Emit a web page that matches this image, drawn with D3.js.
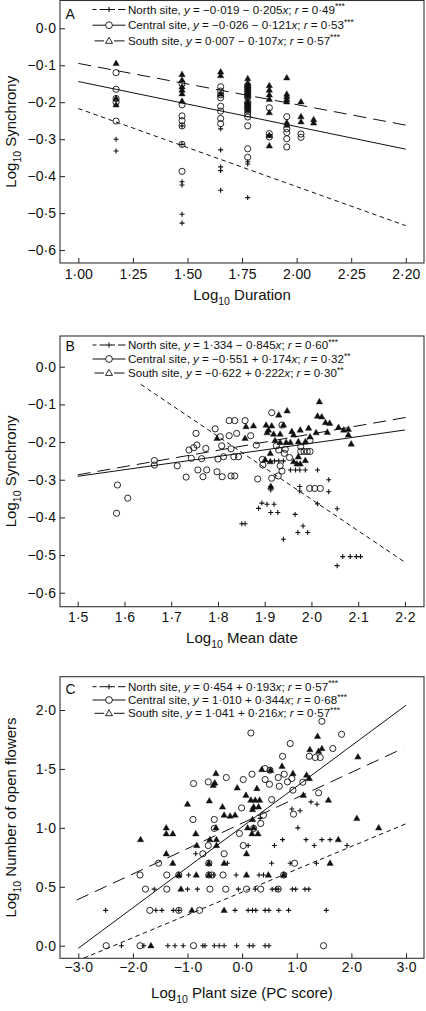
<!DOCTYPE html>
<html><head><meta charset="utf-8">
<script src="https://cdn.jsdelivr.net/npm/d3@7"></script>
<style>
body{margin:0;background:#fff}
svg{display:block}
text{font-family:"Liberation Sans",Arial,Helvetica,sans-serif;fill:#111}
</style>
</head><body>
<svg id="c" width="426" height="1011"></svg>
<script>
// ---------------- DATA ----------------
// Panel A: Log10 Duration vs Log10 Synchrony
const aXTicks=[1.00,1.25,1.50,1.75,2.00,2.25,2.50];
const aXLabels=["1·00","1·25","1·50","1·75","2·00","2·25","2·20"];
const aYTicks=[0,-0.1,-0.2,-0.3,-0.4,-0.5,-0.6];
const aYLabels=["0·0","−0·1","−0·2","−0·3","−0·4","−0·5","−0·6"];
const aNorth=[[1.173,-0.300],[1.173,-0.332],
 [1.475,-0.264],[1.475,-0.314],[1.475,-0.415],[1.475,-0.424],[1.475,-0.503],[1.475,-0.527],
 [1.652,-0.272],[1.652,-0.329],[1.652,-0.375],[1.652,-0.385],[1.652,-0.438],
 [1.776,-0.361],[1.776,-0.367],[1.776,-0.458],[1.875,-0.290]];
const aCentral=[[1.173,-0.120],[1.173,-0.165],[1.173,-0.190],[1.173,-0.200],[1.173,-0.251],
 [1.475,-0.150],[1.475,-0.207],[1.475,-0.237],[1.475,-0.250],[1.475,-0.264],[1.475,-0.314],[1.475,-0.387],
 [1.652,-0.158],[1.652,-0.170],[1.652,-0.180],[1.652,-0.188],[1.652,-0.211],[1.652,-0.224],[1.652,-0.244],[1.652,-0.258],
 [1.776,-0.155],[1.776,-0.162],[1.776,-0.170],[1.776,-0.178],[1.776,-0.186],[1.776,-0.200],[1.776,-0.207],[1.776,-0.214],[1.776,-0.222],[1.776,-0.232],[1.776,-0.240],[1.776,-0.264],[1.776,-0.326],[1.776,-0.349],
 [1.875,-0.215],[1.875,-0.285],[1.875,-0.294],
 [1.955,-0.239],[1.955,-0.272],[1.955,-0.282],[1.955,-0.299],[1.955,-0.321],
 [2.020,-0.286],[2.020,-0.295]];
const aSouth=[[1.173,-0.095],[1.173,-0.190],[1.173,-0.207],
 [1.475,-0.125],[1.475,-0.140],[1.475,-0.158],[1.475,-0.167],[1.475,-0.177],[1.475,-0.197],
 [1.652,-0.118],[1.652,-0.128],[1.652,-0.178],
 [1.776,-0.136],[1.776,-0.148],[1.776,-0.154],[1.776,-0.160],[1.776,-0.166],[1.776,-0.172],[1.776,-0.178],[1.776,-0.184],[1.776,-0.198],[1.776,-0.204],[1.776,-0.210],[1.776,-0.216],[1.776,-0.222],
 [1.875,-0.155],[1.875,-0.167],[1.875,-0.180],[1.875,-0.192],[1.875,-0.228],[1.875,-0.318],[1.875,-0.290],
 [1.955,-0.134],[1.955,-0.178],[1.955,-0.185],[1.955,-0.192],[1.955,-0.199],[1.955,-0.255],[1.955,-0.262],
 [2.020,-0.199],[2.020,-0.239],[2.020,-0.253],
 [2.078,-0.247],[2.078,-0.256]];
const aFitNorth=[[1.0,-0.217],[2.5,-0.534]];
const aFitCentral=[[1.0,-0.144],[2.5,-0.327]];
const aFitSouth=[[1.0,-0.095],[2.5,-0.262]];

// Panel B: Log10 Mean date vs Log10 Synchrony
const bXTicks=[1.5,1.6,1.7,1.8,1.9,2.0,2.1,2.2];
const bXLabels=["1·5","1·6","1·7","1·8","1·9","2·0","2·1","2·2"];
const bYTicks=aYTicks, bYLabels=aYLabels;
const bNorth=[[1.921,-0.250],[1.930,-0.250],[1.940,-0.250],
 [1.955,-0.274],[1.966,-0.274],[1.975,-0.274],[1.987,-0.274],[2.013,-0.274],
 [2.037,-0.300],[1.975,-0.318],[1.975,-0.330],[1.913,-0.318],[1.913,-0.327],[2.037,-0.332],
 [2.013,-0.364],[2.055,-0.377],[1.894,-0.362],[1.905,-0.365],[1.920,-0.365],[1.887,-0.376],
 [1.913,-0.387],[1.928,-0.387],[1.965,-0.392],[1.851,-0.417],[1.858,-0.417],[1.982,-0.423],
 [1.971,-0.440],[1.992,-0.440],[1.940,-0.458],[2.067,-0.504],[2.083,-0.504],[2.096,-0.504],[2.105,-0.504],[2.055,-0.528]];
const bCentral=[[1.585,-0.314],[1.607,-0.349],[1.583,-0.389],[1.664,-0.249],[1.664,-0.261],
 [1.713,-0.263],[1.732,-0.293],[1.753,-0.177],[1.755,-0.208],[1.738,-0.221],[1.748,-0.215],[1.743,-0.243],
 [1.757,-0.274],[1.765,-0.244],[1.768,-0.292],[1.774,-0.217],[1.776,-0.274],[1.794,-0.165],[1.798,-0.279],
 [1.800,-0.245],[1.805,-0.186],[1.808,-0.210],[1.809,-0.292],[1.812,-0.239],[1.824,-0.143],[1.836,-0.143],
 [1.824,-0.183],[1.828,-0.218],[1.828,-0.290],[1.836,-0.290],[1.834,-0.239],[1.840,-0.177],[1.844,-0.239],
 [1.858,-0.143],[1.870,-0.183],[1.882,-0.208],[1.915,-0.122],[1.937,-0.155],[1.925,-0.210],[1.930,-0.221],
 [1.942,-0.230],[1.944,-0.219],[1.953,-0.241],[1.895,-0.246],[1.896,-0.261],[1.933,-0.263],[1.937,-0.277],
 [1.929,-0.290],[1.915,-0.296],[1.885,-0.298],[1.997,-0.196],[1.977,-0.212],[1.977,-0.225],[1.984,-0.225],
 [1.991,-0.225],[1.997,-0.225],[1.996,-0.323],[2.007,-0.323],[2.019,-0.323]];
const bSouth=[[2.017,-0.093],[1.948,-0.117],[1.930,-0.128],[2.013,-0.131],[2.022,-0.133],[1.876,-0.157],
 [1.903,-0.155],[1.915,-0.157],[1.940,-0.155],[1.908,-0.168],[1.958,-0.172],[1.976,-0.168],[1.994,-0.163],
 [2.030,-0.148],[2.039,-0.150],[2.058,-0.161],[2.069,-0.168],[2.079,-0.166],[2.079,-0.181],[2.085,-0.205],
 [1.905,-0.175],[1.919,-0.179],[1.933,-0.179],[1.962,-0.181],[1.922,-0.196],[1.933,-0.201],[1.946,-0.201],
 [1.955,-0.201],[1.972,-0.199],[1.987,-0.199],[2.010,-0.175],[2.034,-0.174],[1.912,-0.230],[1.901,-0.247],
 [1.912,-0.252],[1.962,-0.252],[1.969,-0.258],[1.976,-0.258],[1.987,-0.249],[1.972,-0.239],[1.913,-0.318],
 [1.858,-0.190],[1.860,-0.159],[1.997,-0.186],[1.798,-0.190]];
const bFitNorth=[[1.635,-0.047],[2.2,-0.519]];
const bFitCentral=[[1.5,-0.291],[2.2,-0.168]];
const bFitSouth=[[1.5,-0.287],[2.205,-0.134]];

// Panel C: Log10 Plant size vs Log10 Number of open flowers
const cXTicks=[-3,-2,-1,0,1,2,3];
const cXLabels=["−3·0","−2·0","−1·0","0·0","1·0","2·0","3·0"];
const cYTicks=[0,0.5,1,1.5,2];
const cYLabels=["0·0","0·5","1·0","1·5","2·0"];
const cNorth=[[-2.21,0],[-1.80,0],[-1.36,0],[-1.23,0],[-1.08,0],[-0.72,0],[-0.68,0],[-0.51,0],[-0.42,0],[-0.33,0],[-0.10,0],[0.13,0],[0.20,0],[0.42,0],[0.49,0],
 [-2.50,0.30],[-1.58,0.30],[-1.47,0.30],[-1.26,0.30],[-1.16,0.30],[-0.13,0.30],[0.11,0.30],[0.19,0.30],[0.25,0.30],[0.42,0.30],[0.49,0.30],[0.67,0.30],[0.85,0.30],[1.54,0.30],
 [-1.61,0.48],[-1.00,0.48],[-0.82,0.48],[-0.07,0.48],[0.24,0.48],[0.55,0.48],[0.62,0.48],[0.66,0.48],[0.92,0.48],[0.98,0.48],[1.15,0.48],[1.22,0.48],
 [-0.98,0.60],[-0.52,0.60],[-0.11,0.60],[0.31,0.60],[0.39,0.60],
 [-0.27,0.70],[0.54,0.70],[0.88,0.70],[1.36,0.70],
 [-0.85,0.78],
 [0.11,0.85],[0.59,0.85],[1.32,0.85],[1.92,0.85],
 [0.74,0.90],[1.17,0.90],[1.46,0.90],[1.61,0.90],
 [0.33,1.08],[0.91,1.16],[1.06,1.145],[1.02,1.00],[1.26,1.22],[1.37,1.20]];
const cCentral=[[-2.49,0],[-1.87,0],[-0.89,0],[1.49,0],
 [-1.69,0.30],[-1.16,0.30],[-0.78,0.30],
 [-1.77,0.48],[-1.38,0.48],[-0.59,0.48],[-0.30,0.48],[0.08,0.48],[0.34,0.48],[0.66,0.48],
 [-1.87,0.60],[-1.38,0.60],[-1.16,0.60],[-0.61,0.60],[-0.55,0.60],[-0.35,0.60],[0.76,0.60],
 [-1.53,0.70],[-0.61,0.70],[0.96,0.70],
 [-0.72,0.78],[-0.33,0.78],
 [-0.62,0.85],[0.02,0.85],
 [0.16,1.805],[1.82,1.794],[1.46,1.904],[0.88,1.715],[0.74,1.607],[1.66,1.673],[1.23,1.607],[1.34,1.597],[1.43,1.597],
 [-0.89,1.376],[-0.62,1.39],[-0.29,1.427],[0.02,1.41],[0.18,1.455],[0.42,1.503],[0.51,1.489],[0.42,1.41],[0.50,1.37],
 [0.68,1.353],[0.66,1.427],[0.77,1.455],[0.83,1.39],[0.91,1.419],[0.93,1.32],[1.11,1.387],[1.40,1.297],
 [-0.01,1.169],[0.54,1.24],[-0.51,1.071],[-0.90,1.071],[-0.51,0.995],[0.39,1.108],[0.34,1.037],[0.21,0.995],[-0.05,0.952],[0.94,1.116]];
const cSouth=[[-1.67,0],
 [-0.92,0.30],[-0.33,0.30],
 [-1.12,0.48],
 [-1.16,0.60],[-0.84,0.60],[-0.61,0.60],[0.08,0.60],[0.48,0.60],[0.76,0.60],
 [-1.27,0.70],[-0.61,0.70],[-0.33,0.70],[1.61,0.70],
 [-1.39,0.78],[0.08,0.78],
 [-0.83,0.85],[-0.47,0.85],
 [-1.86,0.90],[-0.59,0.90],[-0.47,0.90],[1.76,0.90],
 [-1.39,0.95],[-1.27,0.95],[-0.85,0.95],[0.18,0.95],[0.29,0.95],
 [-1.39,1.00],[-0.48,1.00],[0.10,1.00],[0.21,1.00],[2.50,1.00],
 [1.38,1.777],[1.24,1.664],[1.40,1.65],[1.46,1.673],[2.12,1.602],[0.73,1.523],[0.52,1.489],[0.36,1.495],[0.93,1.461],
 [1.18,1.447],[1.23,1.419],[1.12,1.277],[1.58,1.235],[2.10,1.080],[-0.09,1.339],[0.07,1.277],[0.16,1.235],[0.24,1.235],
 [0.32,1.235],[0.21,1.178],[0.30,1.178],[0.27,1.334],[0.19,1.156],[0.19,1.071],[-0.36,1.178],[-0.33,1.108],[-0.22,1.10],
 [-0.13,1.108],[-1.00,1.201],[-0.60,1.229],[-0.53,1.362],[-0.50,1.381],[-0.48,1.461]];
const cFitNorth=[[-2.90,-0.106],[3.0,1.035]];
const cFitCentral=[[-3.0,-0.022],[3.0,2.04]];
const cFitSouth=[[-3.03,0.387],[2.95,1.675]];

// legend texts: plain strings, [italic], {sup}
const aLegend=[
 ["North site, ",["y"]," = −0·019 − 0·205",["x"],"; ",["r"]," = 0·49",{sup:"***"}],
 ["Central site, ",["y"]," = −0·026 − 0·121",["x"],"; ",["r"]," = 0·53",{sup:"***"}],
 ["South site, ",["y"]," = 0·007 − 0·107",["x"],"; ",["r"]," = 0·57",{sup:"***"}]];
const bLegend=[
 ["North site, ",["y"]," = 1·334 − 0·845",["x"],"; ",["r"]," = 0·60",{sup:"***"}],
 ["Central site, ",["y"]," = −0·551 + 0·174",["x"],"; ",["r"]," = 0·32",{sup:"**"}],
 ["South site, ",["y"]," = −0·622 + 0·222",["x"],"; ",["r"]," = 0·30",{sup:"**"}]];
const cLegend=[
 ["North site, ",["y"]," = 0·454 + 0·193",["x"],"; ",["r"]," = 0·57",{sup:"***"}],
 ["Central site, ",["y"]," = 1·010 + 0·344",["x"],"; ",["r"]," = 0·68",{sup:"***"}],
 ["South site, ",["y"]," = 1·041 + 0·216",["x"],"; ",["r"]," = 0·57",{sup:"***"}]];

// ---------------- DRAWING ----------------
const svg=d3.select("#c");
const INK="#111";
const DASH={north:"4.5,3.5",central:null,south:"13,7"};

function marker(sel,type,legend){
  if(type==="north"){
    sel.append("path").attr("d","M-2.5,0H2.5M0,-2.5V2.5").attr("stroke",INK).attr("stroke-width",1.1).attr("fill","none");
  }else if(type==="central"){
    sel.append("circle").attr("r",legend?3.4:3.1).attr("fill",legend?"#fff":"none").attr("stroke",INK).attr("stroke-width",0.9);
  }else{
    sel.append("path").attr("d",legend?"M0,-3.6L3.5,2.4L-3.5,2.4Z":"M0,-3.4L3.2,2.2L-3.2,2.2Z")
      .attr("fill",legend?"#fff":INK).attr("stroke",INK).attr("stroke-width",legend?0.9:0.4);
  }
}

function panel(c){
  const x=d3.scaleLinear().domain(c.xd).range([c.l,c.r]);
  const y=d3.scaleLinear().domain(c.yd).range([c.b,c.t]);
  const g=svg.append("g");
  const cid="clip-"+c.name;
  g.append("clipPath").attr("id",cid).append("rect")
    .attr("x",c.l).attr("y",c.t).attr("width",c.r-c.l).attr("height",c.b-c.t);

  const xa=d3.axisBottom(x).tickValues(c.xt).tickFormat((d,i)=>c.xl[i]).tickSizeInner(-5).tickSizeOuter(0).tickPadding(c.xpad);
  const ya=d3.axisLeft(y).tickValues(c.yt).tickFormat((d,i)=>c.yl[i]).tickSizeInner(-5).tickSizeOuter(0).tickPadding(4);
  const gx=g.append("g").attr("transform",`translate(0,${c.b})`).call(xa);
  const gy=g.append("g").attr("transform",`translate(${c.l},0)`).call(ya);
  [gx,gy].forEach(a=>{
    a.select(".domain").remove();
    a.selectAll("line").attr("stroke","#222").attr("stroke-width",1);
    a.selectAll("text").attr("font-size",14).attr("fill",INK).attr("font-family","Liberation Sans, Arial, sans-serif");
  });
  g.append("rect").attr("x",c.l).attr("y",c.t).attr("width",c.r-c.l).attr("height",c.b-c.t)
    .attr("fill","none").attr("stroke","#333").attr("stroke-width",1.1);

  const line=d3.line().x(d=>x(d[0])).y(d=>y(d[1]));
  const lg=g.append("g").attr("clip-path",`url(#${cid})`);
  [["north",c.fits[0]],["central",c.fits[1]],["south",c.fits[2]]].forEach(([k,pts])=>{
    lg.append("path").attr("d",line(pts)).attr("fill","none").attr("stroke",INK).attr("stroke-width",1)
      .attr("stroke-dasharray",DASH[k]);
  });

  const pg=g.append("g").attr("clip-path",`url(#${cid})`);
  [["central",c.data[1]],["north",c.data[0]],["south",c.data[2]]].forEach(([k,pts])=>{
    pts.forEach(p=>{
      const s=pg.append("g").attr("transform",`translate(${x(p[0])},${y(p[1])})`);
      marker(s,k,false);
    });
  });

  g.append("text").attr("x",c.l+5.5).attr("y",c.t+c.lettery).attr("font-size",14).text(c.letter);

  const keys=["north","central","south"];
  c.legend.forEach((parts,i)=>{
    const yy=c.t+c.legy+i*c.legdy;
    const k=keys[i];
    const x0=92.5,x1=125.5,xm=109;
    if(k==="north"){
      [[x0,x0+4],[x0+7,xm-2],[xm+2,xm+6],[xm+9,x1]].forEach(s=>
        g.append("line").attr("x1",s[0]).attr("x2",s[1]).attr("y1",yy).attr("y2",yy).attr("stroke",INK).attr("stroke-width",1));
    }else if(k==="central"){
      g.append("line").attr("x1",x0).attr("x2",x1).attr("y1",yy).attr("y2",yy).attr("stroke",INK).attr("stroke-width",1);
    }else{
      [[x0+2,xm-5],[xm+5,x1-1]].forEach(s=>
        g.append("line").attr("x1",s[0]).attr("x2",s[1]).attr("y1",yy).attr("y2",yy).attr("stroke",INK).attr("stroke-width",1));
    }
    const ms=g.append("g").attr("transform",`translate(${xm},${yy})`);
    marker(ms,k,true);
    const t=g.append("text").attr("x",128).attr("y",yy+4).attr("font-size",11.6);
    parts.forEach(p=>{
      if(typeof p==="string") t.append("tspan").text(p);
      else if(Array.isArray(p)) t.append("tspan").attr("font-style","italic").text(p[0]);
      else t.append("tspan").attr("font-size",8.5).attr("dy",-4.5).text(p.sup);
    });
  });

  const xt=g.append("text").attr("x",(c.l+c.r)/2).attr("y",c.xtitley).attr("text-anchor","middle").attr("font-size",15);
  xt.append("tspan").text("Log");
  xt.append("tspan").attr("font-size",10.5).attr("dy",4.5).text("10");
  xt.append("tspan").attr("dy",-4.5).text(" "+c.xtitle);
  const yt=g.append("text").attr("transform",`translate(16,${(c.t+c.b)/2}) rotate(-90)`).attr("text-anchor","middle").attr("font-size",15);
  yt.append("tspan").text("Log");
  yt.append("tspan").attr("font-size",10.5).attr("dy",4.5).text("10");
  yt.append("tspan").attr("dy",-4.5).text(" "+c.ytitle);
}

panel({name:"A",letter:"A",l:60,r:424,t:0.5,b:263,xd:[0.916,2.5836],yd:[-0.635,0.0752],
  xt:aXTicks,xl:aXLabels,yt:aYTicks,yl:aYLabels,xpad:6.5,
  data:[aNorth,aCentral,aSouth],fits:[aFitNorth,aFitCentral,aFitSouth],
  legend:aLegend,legy:9,legdy:15.7,lettery:18,xtitley:300,xtitle:"Duration",ytitle:"Synchrony"});
panel({name:"B",letter:"B",l:60,r:424,t:336,b:606.7,xd:[1.4621,2.2408],yd:[-0.637,0.0815],
  xt:bXTicks,xl:bXLabels,yt:bYTicks,yl:bYLabels,xpad:5.7,
  data:[bNorth,bCentral,bSouth],fits:[bFitNorth,bFitCentral,bFitSouth],
  legend:bLegend,legy:9,legdy:14,lettery:15,xtitley:643,xtitle:"Mean date",ytitle:"Synchrony"});
panel({name:"C",letter:"C",l:60,r:424,t:676.7,b:958.3,xd:[-3.335,3.3296],yd:[-0.107,2.2826],
  xt:cXTicks,xl:cXLabels,yt:cYTicks,yl:cYLabels,xpad:3.5,
  data:[cNorth,cCentral,cSouth],fits:[cFitNorth,cFitCentral,cFitSouth],
  legend:cLegend,legy:10,legdy:13.3,lettery:17.5,xtitley:998,xtitle:"Plant size (PC score)",ytitle:"Number of open flowers"});
</script>
</body></html>
